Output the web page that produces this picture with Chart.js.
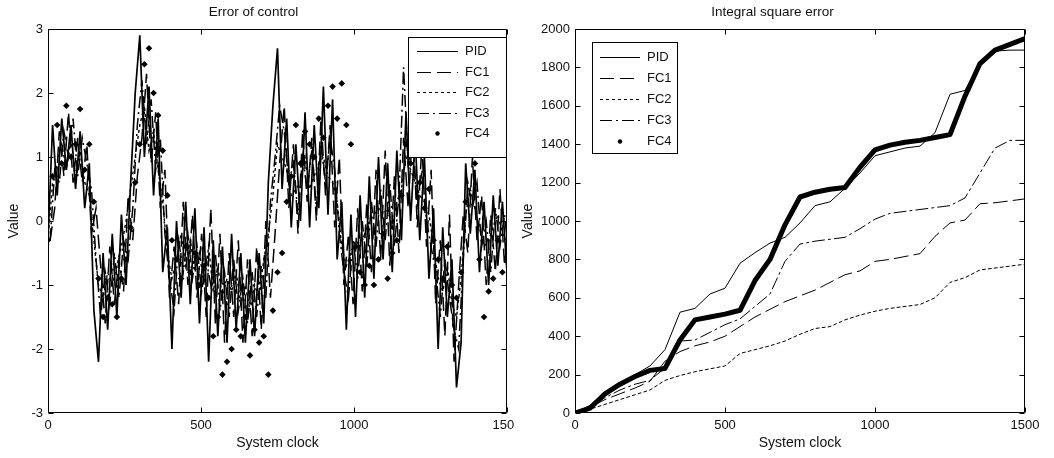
<!DOCTYPE html>
<html>
<head>
<meta charset="utf-8">
<script src="https://cdn.jsdelivr.net/npm/chart.js@4.4.1/dist/chart.umd.min.js"></script>
<style>
  body { margin: 0; background: #fff; }
  #left { position: absolute; left: 0; top: 0; width: 514px; height: 458px; overflow: hidden; }
  #right { position: absolute; left: 520px; top: 0; width: 534px; height: 458px; }
</style>
</head>
<body>
<div id="left"><canvas id="errChart" width="540" height="458"></canvas></div>
<div id="right"><canvas id="iseChart" width="534" height="458"></canvas></div>
<script>
// ---- Error of control (left) ----
// PID, FC2 and FC4 are sampled on errClock, FC1 and FC3 on errClockAlt
const errClock = [0,15,30,45,60,75,90,105,120,135,150,165,180,195,210,225,240,255,270,285,300,315,330,345,360,375,390,405,420,435,450,465,480,495,510,525,540,555,570,585,600,615,630,645,660,675,690,705,720,735,750,765,780,795,810,825,840,855,870,885,900,915,930,945,960,975,990,1005,1020,1035,1050,1065,1080,1095,1110,1125,1140,1155,1170,1185,1200,1215,1230,1245,1260,1275,1290,1305,1320,1335,1350,1365,1380,1395,1410,1425,1440,1455,1470,1485,1500];
const errClockAlt = [7,22,37,52,67,82,97,112,127,142,157,172,187,202,217,232,247,262,277,292,307,322,337,352,367,382,397,412,427,442,457,472,487,502,517,532,547,562,577,592,607,622,637,652,667,682,697,712,727,742,757,772,787,802,817,832,847,862,877,892,907,922,937,952,967,982,997,1012,1027,1042,1057,1072,1087,1102,1117,1132,1147,1162,1177,1192,1207,1222,1237,1252,1267,1282,1297,1312,1327,1342,1357,1372,1387,1402,1417,1432,1447,1462,1477,1492,1507];
const errPID = [-0.3,1.5,0.4,1.6,0.8,1.5,0.5,1.4,0.2,0.9,
  -1.4,-2.2,-0.5,-1.7,-0.2,-1.5,0.1,-1.0,0.6,2.0,
  2.9,1.0,2.1,0.4,1.6,-0.8,-0.1,-2.0,0.0,-1.2,
  0.3,-1.3,0.2,-1.6,-0.1,-2.2,-0.3,-1.8,-0.4,-1.9,
  -0.2,-1.7,-0.5,-1.9,-0.6,-1.8,-0.5,-1.6,0.6,1.8,
  2.7,0.5,1.6,-0.1,1.2,0.0,1.7,-0.1,1.5,0.2,
  2.1,0.1,1.9,-0.6,0.3,-1.7,0.1,-1.5,0.4,-1.2,
  0.7,-0.9,1.0,-0.6,0.9,-0.8,1.1,-0.3,1.7,0.0,
  1.3,-0.3,1.0,-0.9,0.2,-2.0,-0.1,-1.5,-0.6,-2.6,
  -1.9,0.9,-0.2,0.8,-0.8,0.3,-1.0,0.4,-0.7,0.3,
  -0.8];
const errFC1 = [-0.3,0.2,1.4,0.7,1.7,0.6,1.3,0.6,1.2,-0.2,
  0.2,-0.7,-1.6,-0.4,-1.3,-0.6,-1.1,0.4,-0.3,0.7,
  1.3,2.3,0.9,1.7,0.2,0.8,-1.2,-0.4,-1.3,0.3,
  -1.0,0.1,-1.2,-0.2,-1.5,0.2,-1.6,-0.2,-1.9,-0.5,
  -1.5,-0.3,-1.9,-0.6,-1.8,-0.4,-1.7,0.0,-1.2,-0.2,
  0.9,1.8,0.2,1.2,-0.2,1.4,0.3,1.3,0.0,1.6,
  0.4,1.5,-0.1,1.0,-1.0,-0.2,-1.3,0.2,-1.1,0.3,
  -0.8,0.8,-0.6,1.1,-0.7,0.7,-0.5,1.3,0.2,1.5,
  -0.1,1.2,-0.4,0.8,-1.3,-0.3,-1.8,0.1,-2.2,-1.0,
  0.1,-0.5,1.0,-0.3,0.4,-1.0,0.1,-0.8,0.5,-0.7,
  0.0];
const errFC2 = [-0.3,0.6,0.9,1.2,0.8,1.3,0.7,1.1,0.6,0.4,
  -0.3,-1.0,-1.2,-0.8,-1.0,-0.7,-0.4,0.0,0.5,1.0,
  1.5,1.8,1.1,1.4,0.8,0.3,-0.5,-0.9,-0.6,-0.2,
  -0.7,-0.3,-0.8,-0.5,-1.0,-0.4,-1.1,-0.7,-1.2,-0.9,
  -1.1,-0.8,-1.3,-1.0,-1.4,-1.0,-1.2,-0.6,-0.2,0.4,
  1.2,1.0,0.8,0.4,0.5,0.6,1.0,0.5,0.7,0.9,
  1.0,0.7,0.6,0.3,-0.4,-0.7,-0.5,-0.3,-0.4,-0.2,
  0.0,0.1,0.2,0.1,0.2,-0.1,0.3,0.5,1.0,0.8,
  0.6,0.4,0.3,0.1,-0.4,-0.9,-1.1,-0.7,-1.3,-1.5,
  -0.9,0.1,0.5,0.2,-0.1,-0.4,-0.3,-0.1,0.1,-0.2,
  -0.3];
const errFC3 = [-0.3,0.8,0.6,1.4,1.0,1.6,0.7,1.3,0.9,0.5,
  -0.6,-1.5,-0.8,-1.3,-0.5,-1.2,-0.3,-0.6,0.2,1.5,
  2.2,1.2,1.9,0.8,1.3,-0.2,-0.9,-1.4,-0.3,-0.8,
  -0.2,-0.9,-0.4,-1.1,-0.6,-1.0,-0.5,-1.4,-0.8,-1.5,
  -0.6,-1.4,-0.9,-1.6,-0.8,-1.5,-0.7,-1.2,0.3,1.0,
  1.8,1.4,0.6,0.9,0.1,1.0,0.5,1.1,0.2,1.2,
  0.6,1.3,0.8,-0.2,-0.8,-1.2,-0.3,-0.9,0.0,-0.7,
  0.3,-0.4,0.5,-0.3,0.6,-0.4,0.4,2.4,0.9,1.2,
  0.2,0.8,0.0,-0.4,-0.8,-1.5,-0.6,-1.2,-1.7,-2.0,
  -0.6,0.6,0.2,0.6,-0.4,0.0,-0.8,0.2,-0.4,0.1,
  -0.6];
const errFC4 = [-0.3,0.7,1.5,0.9,1.8,1.0,1.2,1.75,0.8,1.2,
  0.3,-0.9,-1.5,-1.2,-1.3,-1.5,-0.9,-0.6,-0.1,0.6,
  1.2,2.45,2.7,2.0,1.65,1.1,0.4,-0.3,-0.6,-0.9,
  -0.4,-0.8,-0.5,-1.0,-0.7,-1.2,-1.8,-1.5,-2.4,-2.2,
  -2.0,-1.7,-1.8,-1.5,-2.1,-1.7,-1.9,-1.8,-2.4,-1.4,
  -0.8,-0.5,0.3,0.7,1.5,0.9,1.4,1.2,1.0,1.6,
  1.3,1.8,2.1,1.6,2.15,1.5,1.2,-0.4,-0.8,-1.0,
  -0.7,-1.0,-0.6,-0.2,-0.9,-0.5,-0.3,0.4,1.2,0.9,
  1.4,0.6,0.2,0.5,-0.3,-0.6,-0.9,-0.4,-1.0,-1.2,
  -0.8,0.3,1.2,0.9,-0.6,-1.5,-1.1,-0.9,-0.3,-0.8,
  -0.6];

// ---- Integral square error (right) ----
const iseClock = [0,50,100,150,200,250,300,350,400,450,500,550,600,650,700,750,800,850,900,950,1000,1050,1100,1150,1200,1250,1300,1350,1400,1450,1500];
const isePID = [0,40,110,150,200,245,330,525,545,620,650,780,835,885,915,990,1080,1100,1170,1250,1340,1360,1380,1390,1460,1660,1680,1820,1885,1890,1890];
const iseFC1 = [0,30,70,100,130,165,270,320,350,370,400,450,500,540,580,610,640,680,720,740,790,800,815,830,920,990,1005,1090,1095,1105,1115];
const iseFC2 = [0,20,45,70,95,120,170,195,215,230,245,310,330,350,375,410,440,450,485,510,530,545,555,565,600,680,705,745,755,765,775];
const iseFC3 = [0,30,80,120,150,170,235,375,380,420,460,490,555,620,790,880,895,905,915,960,1010,1040,1050,1060,1070,1080,1120,1250,1380,1420,1420];
const iseFC4 = [0,25,100,150,190,222,232,380,485,500,515,535,690,800,980,1125,1150,1165,1175,1280,1370,1395,1410,1420,1435,1450,1650,1820,1890,1920,1950];

const seriesNames = ['PID', 'FC1', 'FC2', 'FC3', 'FC4'];
const dashes = [[], [14, 6], [3, 3], [12, 4, 2, 4], []];
const FONT = "'Liberation Sans', Arial, sans-serif";

function pts(xs, ys) { return xs.map((x, i) => ({ x: x, y: ys[i] })); }

// box, inward ticks on all sides and an in-plot legend, like a MATLAB figure
const matlabFrame = {
  id: 'matlabFrame',
  afterDatasetsDraw(chart, args, opts) {
    const { ctx, chartArea: a, scales } = chart;
    const L = Math.round(a.left) + 0.5, R = Math.round(a.right) - 0.5;
    const T = Math.round(a.top) + 0.5, B = Math.round(a.bottom) - 0.5;
    ctx.save();
    ctx.strokeStyle = '#000';
    ctx.lineWidth = 1;
    ctx.setLineDash([]);
    ctx.beginPath();
    ctx.rect(L, T, R - L, B - T);
    scales.x.ticks.forEach(t => {
      const px = Math.round(scales.x.getPixelForValue(t.value)) + 0.5;
      ctx.moveTo(px, B); ctx.lineTo(px, B - 5);
      ctx.moveTo(px, T); ctx.lineTo(px, T + 5);
    });
    scales.y.ticks.forEach(t => {
      const py = Math.round(scales.y.getPixelForValue(t.value)) + 0.5;
      ctx.moveTo(L, py); ctx.lineTo(L + 5, py);
      ctx.moveTo(R, py); ctx.lineTo(R - 5, py);
    });
    ctx.stroke();

    // legend
    const lg = opts.legend;
    ctx.fillStyle = '#fff';
    ctx.fillRect(lg.x, lg.y, lg.w, lg.h);
    ctx.strokeRect(lg.x + 0.5, lg.y + 0.5, lg.w, lg.h);
    ctx.font = '13px ' + FONT;
    ctx.textBaseline = 'middle';
    ctx.textAlign = 'left';
    chart.data.datasets.forEach((ds, i) => {
      const y = Math.round(lg.y + lg.first + i * lg.row) + 0.5;
      ctx.fillStyle = '#000';
      if (i === 4) {
        ctx.beginPath();
        ctx.arc((lg.x0 + lg.x1) / 2, y, 2.2, 0, Math.PI * 2);
        ctx.fill();
      } else {
        ctx.setLineDash(dashes[i]);
        ctx.beginPath();
        ctx.moveTo(lg.x0, y); ctx.lineTo(lg.x1, y);
        ctx.stroke();
        ctx.setLineDash([]);
      }
      ctx.fillStyle = '#111';
      ctx.fillText(ds.label, lg.tx, y);
    });
    ctx.restore();
  }
};

function axisOpts(min, max, step, width, titlePad) {
  return {
    x: {
      type: 'linear', min: 0, max: 1500,
      grid: { display: false, drawTicks: false },
      border: { display: false },
      ticks: { stepSize: 500, padding: 5, color: '#111', font: { family: FONT, size: 13 }, callback: v => String(v) },
      title: { display: true, text: 'System clock', color: '#111', padding: { top: 0, bottom: 6 }, font: { family: FONT, size: 14 } },
      afterFit: s => { s.height = 45; }
    },
    y: {
      type: 'linear', min: min, max: max,
      grid: { display: false, drawTicks: false },
      border: { display: false },
      ticks: { stepSize: step, padding: 5, color: '#111', font: { family: FONT, size: 13 }, callback: v => String(v) },
      title: { display: true, text: 'Value', color: '#111', padding: { top: titlePad, bottom: 0 }, font: { family: FONT, size: 14 } },
      afterFit: s => { s.width = width; }
    }
  };
}

function commonPlugins(titleText, legend) {
  return {
    legend: { display: false },
    tooltip: { enabled: false },
    title: { display: true, text: titleText, color: '#111', font: { family: FONT, size: 13.5, weight: 'normal' }, padding: { top: 4, bottom: 8.8 } },
    matlabFrame: { legend: legend }
  };
}

const errX = [errClock, errClockAlt, errClock, errClockAlt, errClock];
const errWidths = [1.7, 1.5, 1.4, 1.5, 0];

new Chart(document.getElementById('errChart'), {
  type: 'line',
  data: {
    datasets: [errPID, errFC1, errFC2, errFC3, errFC4].map((ys, i) => ({
      label: seriesNames[i],
      data: pts(errX[i], ys),
      borderColor: '#000',
      backgroundColor: '#000',
      borderWidth: errWidths[i],
      borderDash: dashes[i],
      pointRadius: i === 4 ? 3.3 : 0,
      pointStyle: 'rectRot',
      showLine: i !== 4,
      tension: 0
    }))
  },
  options: {
    responsive: false,
    animation: false,
    events: [],
    layout: { padding: { left: 0, right: 33, top: 0, bottom: 0 } },
    scales: axisOpts(-3, 3, 1, 48, 6),
    plugins: commonPlugins('Error of control', { x: 408, y: 37, w: 98, h: 120, first: 14, row: 20.5, x0: 417, x1: 458, tx: 465 })
  },
  plugins: [matlabFrame]
});

new Chart(document.getElementById('iseChart'), {
  type: 'line',
  data: {
    datasets: [isePID, iseFC1, iseFC2, iseFC3, iseFC4].map((ys, i) => ({
      label: seriesNames[i],
      data: pts(iseClock, ys),
      borderColor: '#000',
      borderWidth: i === 4 ? 5 : 1,
      borderDash: dashes[i],
      borderJoinStyle: 'round',
      borderCapStyle: 'round',
      pointRadius: 0,
      tension: 0
    }))
  },
  options: {
    responsive: false,
    animation: false,
    events: [],
    layout: { padding: { left: 0, right: 29, top: 0, bottom: 0 } },
    scales: axisOpts(0, 2000, 200, 55, 0),
    plugins: commonPlugins('Integral square error', { x: 72, y: 42, w: 85, h: 111, first: 14.5, row: 21, x0: 80, x1: 120, tx: 127 })
  },
  plugins: [matlabFrame]
});
</script>
</body>
</html>
